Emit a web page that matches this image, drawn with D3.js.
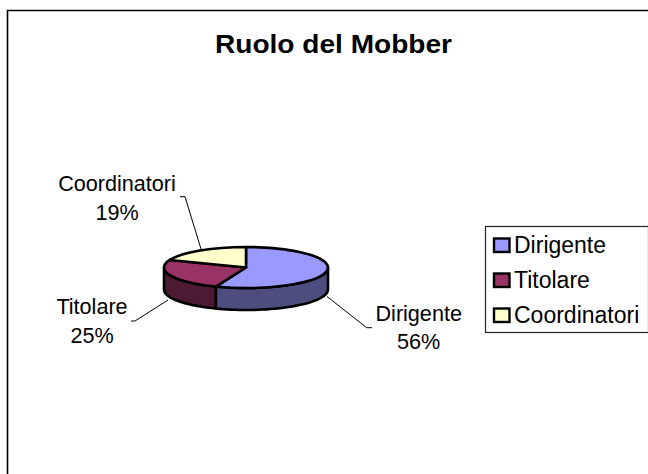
<!DOCTYPE html>
<html><head><meta charset="utf-8">
<script src="https://cdn.jsdelivr.net/npm/d3@7"></script>
<style>html,body{margin:0;background:#fff}svg{display:block}text{font-family:"Liberation Sans",Arial,sans-serif;fill:#000}</style>
</head><body><svg id="c" width="648" height="474"></svg>
<script>
const categories=["Dirigente","Titolare","Coordinatori"];
const values=[56,25,19];
const colors=["#9999FF","#993366","#FFFFCC"];
const sideColors=["#4D4D80","#4D1A33"];
const title="Ruolo del Mobber";

const svg=d3.select("#c");
const cx=246,cy=267.5,rx=82,ry=20.5,depth=22;
svg.append("path").attr("d","M7.5,474V10.5H648").attr("fill","none").attr("stroke","#000").attr("stroke-width",1.6);
svg.append("text").attr("x",333.5).attr("y",53).attr("text-anchor","middle").attr("font-size",26).attr("font-weight","bold")
  .attr("textLength",237).attr("lengthAdjust","spacingAndGlyphs").text(title);

const arcs=d3.pie().sort(null)(values);
const pt=(a,dy=0)=>[cx+rx*Math.sin(a),cy-ry*Math.cos(a)+dy];
const line=d3.line();
// side walls (front half only)
arcs.forEach((d,i)=>{
  const a0=Math.max(d.startAngle,Math.PI/2),a1=Math.min(d.endAngle,Math.PI*1.5);
  if(a1<=a0)return;
  const ts=d3.range(0,41).map(k=>a0+(a1-a0)*k/40);
  const pts=ts.map(t=>pt(t)).concat(ts.slice().reverse().map(t=>pt(t,depth)));
  svg.append("path").attr("d",line(pts)+"Z").attr("fill",sideColors[i]).attr("stroke","#000").attr("stroke-width",2.6).attr("stroke-linejoin","round");
});
// top slices
const arc=d3.arc().innerRadius(0).outerRadius(rx);
const topFace=svg.append("g").attr("transform",`translate(${cx},${cy}) scale(1,${ry/rx})`);
topFace.selectAll("path").data(arcs).join("path").attr("d",arc).attr("fill",(d,i)=>colors[i])
  .attr("stroke","#000").attr("stroke-width",2.6).attr("vector-effect","non-scaling-stroke").attr("stroke-linejoin","round");

// labels
const labelPos=[[418.7,321,349],[92,314,343],[117,191,219.5]];
categories.forEach((c,i)=>{
  const t=svg.append("text").attr("text-anchor","middle").attr("font-size",21.6);
  t.append("tspan").attr("x",labelPos[i][0]).attr("y",labelPos[i][1]).text(c);
  t.append("tspan").attr("x",labelPos[i][0]).attr("y",labelPos[i][2]).text(values[i]+"%");
});
// leader lines
const leaders=[[[327,296.5],[366.7,327.7],[372,327.7]],[[168,300],[135,321],[131,321]],[[201,249],[185,196.7],[180,196.7]]];
leaders.forEach(l=>svg.append("path").attr("d",line(l)).attr("fill","none").attr("stroke","#000").attr("stroke-width",1));

// legend
const lg=svg.append("g");
lg.append("rect").attr("x",485.5).attr("y",226.5).attr("width",163).attr("height",106).attr("fill","#fff").attr("stroke","#222").attr("stroke-width",1.2);
const ly=d3.scalePoint().domain(categories).range([245,315]);
categories.forEach((c,i)=>{
  lg.append("rect").attr("x",494).attr("y",ly(c)-6.5).attr("width",15.5).attr("height",13.5).attr("fill",colors[i]).attr("stroke","#000").attr("stroke-width",2.4);
  lg.append("text").attr("x",514).attr("y",ly(c)+7.5).attr("font-size",23).text(c);
});
</script></body></html>
